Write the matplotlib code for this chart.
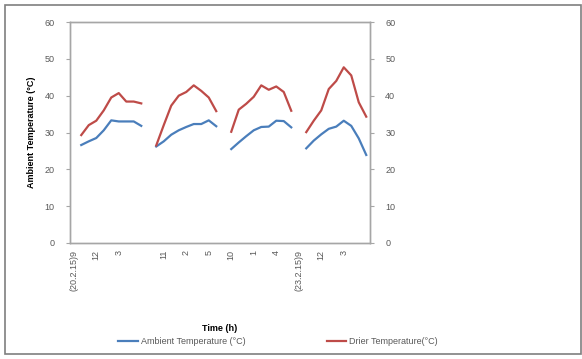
import numpy as np
import matplotlib
matplotlib.use("Agg")
import matplotlib.pyplot as plt
from matplotlib.patches import Rectangle

plt.rcParams["font.family"] = ["Liberation Sans", "DejaVu Sans"]

nan = np.nan
# hourly categories, one empty slot before each day
categories = list(range(40))
ambient = [nan, 26.6, 27.6, 28.5, 30.6, 33.3, 33.0, 33.0, 33.0, 31.8,
           nan, 26.2, 27.6, 29.4, 30.6, 31.5, 32.3, 32.3, 33.3, 31.7,
           nan, 25.5, 27.3, 29.0, 30.6, 31.5, 31.6, 33.2, 33.1, 31.4,
           nan, 25.7, 27.8, 29.5, 31.0, 31.6, 33.2, 31.8, 28.4, 23.9]
drier = [nan, 29.3, 32.0, 33.2, 36.0, 39.5, 40.7, 38.4, 38.4, 37.9,
         nan, 26.5, 32.0, 37.3, 40.0, 41.0, 42.8, 41.3, 39.5, 35.8,
         nan, 30.2, 36.2, 37.8, 39.7, 42.8, 41.6, 42.5, 41.0, 35.9,
         nan, 30.1, 33.2, 36.0, 41.8, 44.0, 47.7, 45.5, 38.2, 34.3]
tick_idx = [0, 3, 6, 12, 15, 18, 21, 24, 27, 30, 33, 36]
tick_labels = ["(20.2.15)9", "12", "3", "11", "2", "5", "10", "1", "4",
               "(23.2.15)9", "12", "3"]
yticks = [0, 10, 20, 30, 40, 50, 60]

blue = "#4a7ebb"
red = "#be4b48"
gray = "#a6a6a6"
txt = "#595959"

fig = plt.figure(figsize=(5.82, 3.59), dpi=100)
ax = fig.add_axes([70 / 582, 1 - 243 / 359, 300 / 582, 221 / 359])

ax.plot(categories, ambient, color=blue, lw=1.6, label="Ambient Temperature (\u00b0C)")
ax.plot(categories, drier, color=red, lw=1.6, label="Drier Temperature(\u00b0C)")

ax.set_xlim(-0.5, 39.5)
ax.set_ylim(0, 60)
ax.set_yticks(yticks)
ax.set_xticks(tick_idx, tick_labels, rotation=90)
ax.tick_params(axis="x", length=0, pad=5, labelsize=6.5, labelcolor=txt)
ax.tick_params(axis="y", length=3, color=gray, labelsize=6.5, labelcolor=txt, pad=8)
for s in ax.spines.values():
    s.set_color(gray)
    s.set_linewidth(1)

ax2 = ax.twinx()
ax2.set_ylim(0, 60)
ax2.set_yticks(yticks)
ax2.tick_params(axis="y", length=3, color=gray, labelsize=6.5, labelcolor=txt, pad=8)
for s in ax2.spines.values():
    s.set_color(gray)
    s.set_linewidth(1)

ax.set_ylabel("Ambient Temperature (\u00b0C)", fontsize=6.5, fontweight="bold", labelpad=6)
ax.set_xlabel("Time (h)", fontsize=6.5, fontweight="bold", labelpad=24)

fig.legend(loc="center", bbox_to_anchor=(278 / 582, 1 - 342 / 359), ncol=2,
           frameon=False, fontsize=6.5, columnspacing=9, handlelength=2.2,
           handletextpad=0.3, labelcolor=txt)

fig.patches.append(Rectangle((5 / 582, 5 / 359), 576 / 582, 349 / 359,
                             transform=fig.transFigure, fill=False,
                             edgecolor="#7f7f7f", lw=1.2))

fig.savefig("out.png", dpi=100)
